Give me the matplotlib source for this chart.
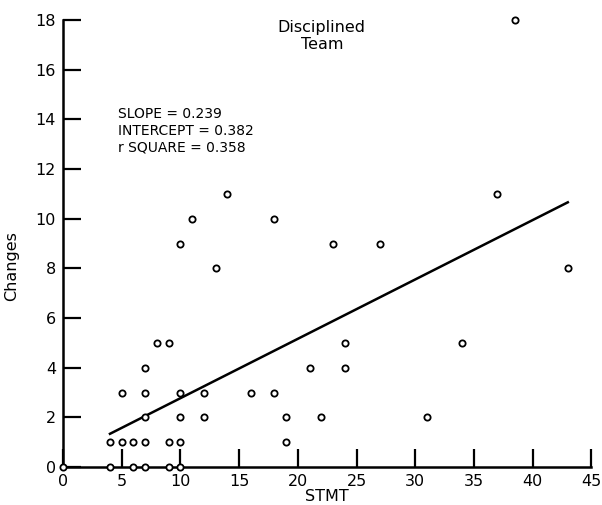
import numpy as np
import matplotlib.pyplot as plt

# STMT vs Changes
stmt = [0, 4, 4, 5, 5, 6, 6, 7, 7, 7, 7, 7, 8, 9, 9, 9, 10, 10, 10, 10, 10,
        11, 12, 12, 13, 14, 16, 18, 18, 19, 19, 21, 22, 23, 24, 24, 27, 31,
        34, 37, 38.5, 43]
changes = [0, 0, 1, 1, 3, 1, 0, 0, 1, 2, 3, 4, 5, 5, 1, 0, 0, 1, 2, 3, 9,
           10, 3, 2, 8, 11, 3, 3, 10, 2, 1, 4, 2, 9, 5, 4, 9, 2,
           5, 11, 18, 8]

slope = 0.239
intercept = 0.382
r_square = 0.358
fit_range = [4, 43]

x_ticks = list(range(0, 50, 5))
y_ticks = list(range(0, 20, 2))

fig = plt.figure(figsize=(6.02, 5.05), dpi=100)
ax = fig.add_axes([0.1047, 0.0752, 0.8775, 0.8852])

ax.plot(stmt, changes, 'o', mfc='white', mec='black', ms=4.5, mew=1.3,
        clip_on=False, zorder=3)

xf = np.array(fit_range)
ax.plot(xf, intercept + slope * xf, color='black', lw=1.8)

ax.set_xlim(0, 45)
ax.set_ylim(0, 18)
ax.set_xticks(x_ticks)
ax.set_yticks(y_ticks)

for side in ['top', 'right']:
    ax.spines[side].set_visible(False)
for side in ['left', 'bottom']:
    ax.spines[side].set_linewidth(1.8)

ax.tick_params(direction='in', length=13, width=1.6, labelsize=11.5, pad=5)

ax.set_xlabel('STMT', fontsize=11.5, va='center')
ax.xaxis.set_label_coords(0.5, -0.066)
ax.set_ylabel('Changes', fontsize=11.5)
ax.yaxis.set_label_coords(-0.084, 0.45)

ax.text(0.49, 1.0, 'Disciplined\nTeam', transform=ax.transAxes,
        ha='center', va='top', fontsize=11.5, linespacing=1.15)

stats = ('SLOPE = %.3f\nINTERCEPT = %.3f\nr SQUARE = %.3f'
         % (slope, intercept, r_square))
ax.text(0.104, 0.805, stats, transform=ax.transAxes, ha='left', va='top',
        fontsize=10, linespacing=1.25)

fig.savefig('out.png', dpi=100)
